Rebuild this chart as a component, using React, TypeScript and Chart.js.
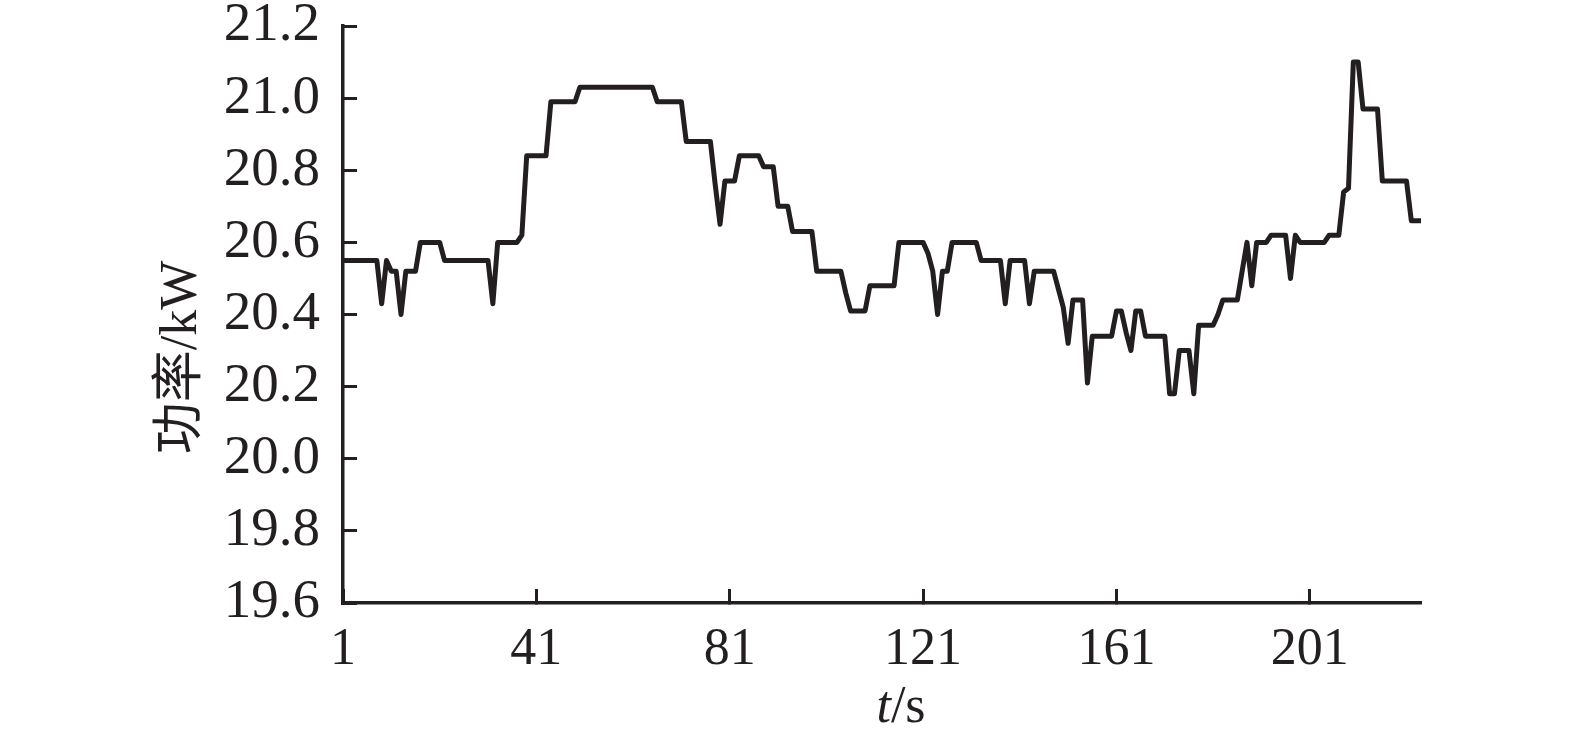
import React, { useEffect, useRef } from 'react';
import { Chart, registerables } from 'chart.js';

Chart.register(...registerables);

// ---- data ----
const timeSeconds: number[] = Array.from({ length: 224 }, (_, i) => i + 1);

const powerKW: number[] = [
  20.55, 20.55, 20.55, 20.55, 20.55, 20.55, 20.55, 20.55, 20.43, 20.55, // 1-10
  20.52, 20.52, 20.40, 20.52, 20.52, 20.52, 20.60, 20.60, 20.60, 20.60, // 11-20
  20.60, 20.55, 20.55, 20.55, 20.55, 20.55, 20.55, 20.55, 20.55, 20.55, // 21-30
  20.55, 20.43, 20.60, 20.60, 20.60, 20.60, 20.60, 20.62, 20.84, 20.84, // 31-40
  20.84, 20.84, 20.84, 20.99, 20.99, 20.99, 20.99, 20.99, 20.99, 21.03, // 41-50
  21.03, 21.03, 21.03, 21.03, 21.03, 21.03, 21.03, 21.03, 21.03, 21.03, // 51-60
  21.03, 21.03, 21.03, 21.03, 21.03, 20.99, 20.99, 20.99, 20.99, 20.99, // 61-70
  20.99, 20.88, 20.88, 20.88, 20.88, 20.88, 20.88, 20.76, 20.65, 20.77, // 71-80
  20.77, 20.77, 20.84, 20.84, 20.84, 20.84, 20.84, 20.81, 20.81, 20.81, // 81-90
  20.70, 20.70, 20.70, 20.63, 20.63, 20.63, 20.63, 20.63, 20.52, 20.52, // 91-100
  20.52, 20.52, 20.52, 20.52, 20.46, 20.41, 20.41, 20.41, 20.41, 20.48, // 101-110
  20.48, 20.48, 20.48, 20.48, 20.48, 20.60, 20.60, 20.60, 20.60, 20.60, // 111-120
  20.60, 20.57, 20.52, 20.40, 20.52, 20.52, 20.60, 20.60, 20.60, 20.60, // 121-130
  20.60, 20.60, 20.55, 20.55, 20.55, 20.55, 20.55, 20.43, 20.55, 20.55, // 131-140
  20.55, 20.55, 20.43, 20.52, 20.52, 20.52, 20.52, 20.52, 20.47, 20.42, // 141-150
  20.32, 20.44, 20.44, 20.44, 20.21, 20.34, 20.34, 20.34, 20.34, 20.34, // 151-160
  20.41, 20.41, 20.35, 20.30, 20.41, 20.41, 20.34, 20.34, 20.34, 20.34, // 161-170
  20.34, 20.18, 20.18, 20.30, 20.30, 20.30, 20.18, 20.37, 20.37, 20.37, // 171-180
  20.37, 20.40, 20.44, 20.44, 20.44, 20.44, 20.52, 20.60, 20.48, 20.60, // 181-190
  20.60, 20.60, 20.62, 20.62, 20.62, 20.62, 20.50, 20.62, 20.60, 20.60, // 191-200
  20.60, 20.60, 20.60, 20.60, 20.62, 20.62, 20.62, 20.74, 20.75, 21.10, // 201-210
  21.10, 20.97, 20.97, 20.97, 20.97, 20.77, 20.77, 20.77, 20.77, 20.77, // 211-220
  20.77, 20.66, 20.66, 20.66, // 221-224
];

const xTickValues: number[] = [1, 41, 81, 121, 161, 201];
const yTickValues: number[] = [19.6, 19.8, 20.0, 20.2, 20.4, 20.6, 20.8, 21.0, 21.2];

const yAxisTitle = '功率/kW';
const xAxisTitleVar = 't';
const xAxisTitleUnit = '/s';

// ---- styles ----
const INK = '#231f20';
const SERIF = '"Liberation Serif", "Times New Roman", "Noto Sans CJK SC", serif';
const FONT_SIZE = 52;
const Y_TICK_FONT_SIZE = 55;

const axisTitlesPlugin = {
  id: 'axisTitles',
  afterDraw(chart: any) {
    const { ctx, chartArea } = chart;
    const midY = (chartArea.top + chartArea.bottom) / 2;
    const midX = (chartArea.left + chartArea.right) / 2;
    ctx.save();
    ctx.fillStyle = INK;
    ctx.textBaseline = 'middle';
    // y title (rotated)
    ctx.save();
    ctx.translate(chartArea.left - 161, midY + 43);
    ctx.rotate(-Math.PI / 2);
    ctx.font = `${FONT_SIZE}px ${SERIF}`;
    ctx.textAlign = 'center';
    ctx.fillText(yAxisTitle, 0, 0);
    ctx.restore();
    // x title: italic t + "/s"
    ctx.font = `italic ${FONT_SIZE}px ${SERIF}`;
    const wVar = ctx.measureText(xAxisTitleVar).width;
    ctx.font = `${FONT_SIZE}px ${SERIF}`;
    const wUnit = ctx.measureText(xAxisTitleUnit).width;
    const startX = midX + 19 - (wVar + wUnit) / 2;
    const ty = chartArea.bottom + 105;
    ctx.textAlign = 'left';
    ctx.font = `italic ${FONT_SIZE}px ${SERIF}`;
    ctx.fillText(xAxisTitleVar, startX, ty);
    ctx.font = `${FONT_SIZE}px ${SERIF}`;
    ctx.fillText(xAxisTitleUnit, startX + wVar, ty);
    ctx.restore();
  },
};

export default function App() {
  const canvasRef = useRef<HTMLCanvasElement>(null);

  useEffect(() => {
    const canvas = canvasRef.current;
    if (!canvas) return;
    const chart = new Chart(canvas, {
      type: 'line',
      data: {
        datasets: [
          {
            label: yAxisTitle,
            data: timeSeconds.map((t, i) => ({ x: t, y: powerKW[i] })),
            borderColor: INK,
            borderWidth: 5,
            pointRadius: 0,
            fill: false,
            tension: 0,
            borderJoinStyle: 'round',
          },
        ],
      },
      options: {
        responsive: false,
        devicePixelRatio: 1,
        animation: false,
        layout: { padding: { top: 26, right: 154, left: 0, bottom: 0 } },
        plugins: {
          legend: { display: false },
          tooltip: { enabled: false },
          title: { display: false },
        },
        scales: {
          x: {
            type: 'linear',
            min: timeSeconds[0],
            max: timeSeconds[timeSeconds.length - 1],
            afterBuildTicks: (s: any) => {
              s.ticks = xTickValues.map((v) => ({ value: v }));
            },
            afterFit: (s: any) => {
              s.height = 137;
              s.paddingLeft = 0;
              s.paddingRight = 0;
            },
            ticks: {
              autoSkip: false,
              maxRotation: 0,
              padding: 30,
              color: INK,
              font: { family: SERIF, size: FONT_SIZE },
              callback: (v: any) => String(v),
            },
            grid: {
              drawOnChartArea: false,
              drawTicks: true,
              tickLength: -14,
              tickWidth: 3,
              color: INK,
            },
            border: { display: true, color: INK, width: 3.5 },
          },
          y: {
            type: 'linear',
            min: yTickValues[0],
            max: yTickValues[yTickValues.length - 1],
            afterBuildTicks: (s: any) => {
              s.ticks = yTickValues.map((v) => ({ value: v }));
            },
            afterFit: (s: any) => {
              s.width = 343;
              s.paddingTop = 0;
              s.paddingBottom = 0;
            },
            ticks: {
              padding: 37,
              color: INK,
              font: { family: SERIF, size: Y_TICK_FONT_SIZE },
              callback: (v: any) => Number(v).toFixed(1),
            },
            grid: {
              drawOnChartArea: false,
              drawTicks: true,
              tickLength: -14,
              tickWidth: 3,
              color: INK,
            },
            border: { display: true, color: INK, width: 3.5 },
          },
        },
      },
      plugins: [axisTitlesPlugin],
    });
    return () => chart.destroy();
  }, []);

  return (
    <div style={{ position: 'absolute', left: 0, top: 0, width: 1575, height: 740, background: '#ffffff' }}>
      <canvas ref={canvasRef} width={1575} height={740} style={{ display: 'block', width: 1575, height: 740 }} />
    </div>
  );
}
